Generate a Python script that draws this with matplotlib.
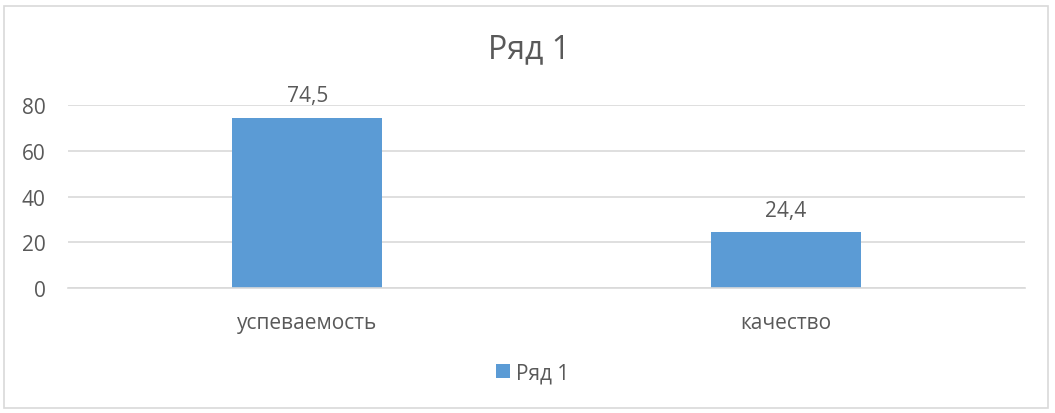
import matplotlib
matplotlib.use("Agg")
import matplotlib.pyplot as plt
from matplotlib.patches import Rectangle

# chart data
categories = ["успеваемость", "качество"]
values = [74.5, 24.4]
value_labels = ["74,5", "24,4"]
series_name = "Ряд 1"
y_ticks = [0, 20, 40, 60, 80]

BAR_COLOR = "#5B9BD5"
TEXT_COLOR = "#595959"
GRID_COLOR = "#D9D9D9"

plt.rcParams["font.family"] = ["Open Sans", "DejaVu Sans"]

fig = plt.figure(figsize=(10.55, 4.14), dpi=100)
ax = fig.add_axes([68 / 1055, 125 / 414, (1025 - 68) / 1055, (289 - 106) / 414])

# outer chart border
fig.patches.append(Rectangle((4 / 1055, 5 / 414), 1044 / 1055, 402 / 414,
                             transform=fig.transFigure, fill=False,
                             edgecolor=GRID_COLOR, linewidth=1.2))

x = range(len(categories))
bars = ax.bar(x, values, width=0.313, color=BAR_COLOR, label=series_name, zorder=3)
for b, lab in zip(bars, value_labels):
    ax.annotate(lab, (b.get_x() + b.get_width() / 2, b.get_height()),
                xytext=(0, 8), textcoords="offset points",
                ha="center", va="bottom", fontsize=15, color=TEXT_COLOR)

ax.set_xlim(-0.5, len(categories) - 0.5)
ax.set_ylim(0, 80)
ax.set_yticks(y_ticks)
ax.set_xticks(list(x))
ax.set_xticklabels(categories)
ax.tick_params(axis="both", length=0, labelsize=15, labelcolor=TEXT_COLOR)
ax.tick_params(axis="x", pad=17)
ax.tick_params(axis="y", pad=16)
ax.grid(axis="y", color=GRID_COLOR, linewidth=1.2, zorder=0)
for s in ["top", "right", "left"]:
    ax.spines[s].set_visible(False)
ax.spines["bottom"].set_color(GRID_COLOR)
ax.spines["bottom"].set_linewidth(1.2)
ax.spines["bottom"].set_zorder(4)

fig.text(529 / 1055, 1 - 50 / 414, series_name, ha="center", va="center",
         fontsize=23, color=TEXT_COLOR)

ax.legend(loc="center", bbox_to_anchor=(533 / 1055, 1 - 374 / 414),
          bbox_transform=fig.transFigure, frameon=False, fontsize=15,
          handlelength=0.65, handleheight=0.65, handletextpad=0.3,
          labelcolor=TEXT_COLOR)

fig.savefig("out.png", dpi=100)
